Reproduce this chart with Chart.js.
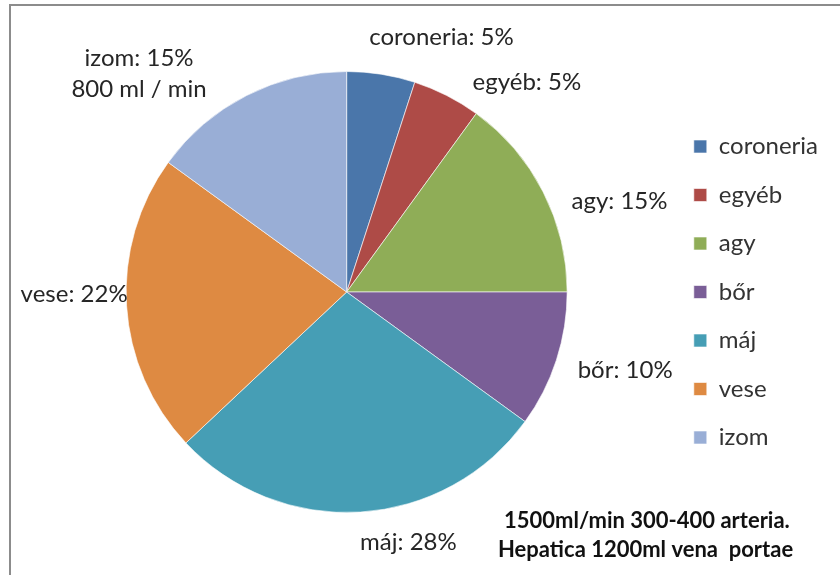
<!DOCTYPE html>
<html>
<head>
<meta charset="utf-8">
<script src="https://cdn.jsdelivr.net/npm/chart.js@4/dist/chart.umd.min.js"></script>
<style>
  html, body { margin: 0; padding: 0; background: #fff; }
  #wrap { position: relative; width: 840px; height: 575px; }
</style>
</head>
<body>
<div id="wrap"><canvas id="flowChart" width="840" height="575"></canvas></div>
<script>
// ===== DATA =====
const labels = ['coroneria', 'egyéb', 'agy', 'bőr', 'máj', 'vese', 'izom'];
const shares = [5, 5, 15, 10, 28, 22, 15];
const notes = ['', '', '', '', '', '', '800 ml / min'];
const colors = ['#4a76aa', '#ae4b47', '#8fad57', '#7a5e97', '#469eb5', '#de8a42', '#99aed6'];
const annotation = ['1500ml/min 300-400 arteria.', 'Hepatica 1200ml vena  portae'];

const FONT = "Lato, 'Open Sans', sans-serif";

// frame lines (top + left), like the original slide
const framePlugin = {
    id: 'frame',
    beforeDraw(chart) {
        const ctx = chart.ctx;
        ctx.save();
        ctx.fillStyle = '#fff';
        ctx.fillRect(0, 0, chart.width, chart.height);
        ctx.strokeStyle = '#8c8c8c';
        ctx.lineWidth = 2;
        ctx.beginPath();
        ctx.moveTo(10, chart.height);
        ctx.lineTo(10, 5);
        ctx.lineTo(chart.width, 5);
        ctx.stroke();
        ctx.restore();
    }
};

// outside labels "name: x%"
const sliceLabels = {
    id: 'sliceLabels',
    afterDatasetsDraw(chart, args, opts) {
        const ctx = chart.ctx;
        const arcs = chart.getDatasetMeta(0).data;
        ctx.save();
        ctx.font = '24px ' + FONT;
        ctx.fillStyle = '#262626';
        ctx.textAlign = 'center';
        ctx.textBaseline = 'middle';
        arcs.forEach((arc, i) => {
            const lines = [labels[i] + ': ' + shares[i] + '%'];
            if (notes[i]) lines.push(notes[i]);
            const a = (arc.startAngle + arc.endAngle) / 2;
            const r = arc.outerRadius + opts.gap;
            const c = Math.cos(a), s = Math.sin(a);
            const w = Math.max(...lines.map(l => ctx.measureText(l).width));
            const lh = 31;
            let x = arc.x + r * c;
            let y = arc.y + r * s;
            if (c > 0.25) x += w / 2;
            else if (c < -0.25) x -= w / 2;
            if (s < -0.9) y -= 10;
            if (s > 0.9) y += 10;
            const n = opts.nudge[i] || [0, 0];
            x += n[0];
            y += n[1];
            const y0 = y - (lines.length - 1) * lh / 2;
            lines.forEach((l, k) => ctx.fillText(l, x, y0 + k * lh));
        });
        // note in the lower right corner
        ctx.font = 'bold 22px ' + FONT;
        ctx.fillStyle = '#111';
        ctx.textAlign = 'left';
        ctx.fillText(annotation[0], opts.noteX + 6, opts.noteY);
        ctx.fillText(annotation[1], opts.noteX, opts.noteY + 29);
        ctx.restore();
    }
};

new Chart(document.getElementById('flowChart'), {
    type: 'pie',
    data: {
        labels: labels,
        datasets: [{
            data: shares,
            backgroundColor: colors,
            borderColor: 'rgba(255,255,255,0.6)',
            borderWidth: 1
        }]
    },
    plugins: [framePlugin, sliceLabels],
    options: {
        responsive: false,
        animation: false,
        layout: { padding: { top: 71, bottom: 62, left: 24, right: 12 } },
        plugins: {
            legend: {
                position: 'right',
                labels: {
                    boxWidth: 13,
                    boxHeight: 13,
                    padding: 24.5,
                    color: '#333',
                    font: { family: FONT, size: 24 }
                }
            },
            tooltip: { enabled: false },
            sliceLabels: {
                gap: 15,
                nudge: [[58, -12], [19, 0], [15, 16], [7, 5], [47, 5], [16, -13], [-33, -8]],
                noteX: 498,
                noteY: 521
            }
        }
    }
});
</script>
</body>
</html>
